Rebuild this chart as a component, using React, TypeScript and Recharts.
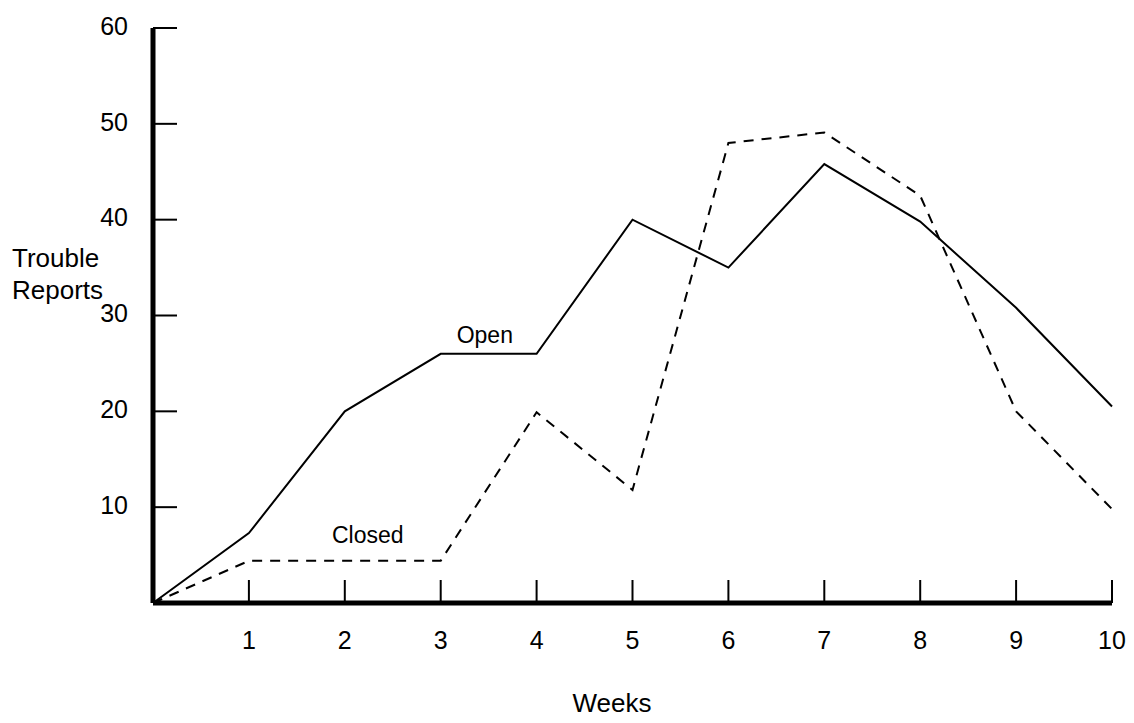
import { Label, Line, LineChart, ReferenceDot, XAxis, YAxis } from "recharts";

const weeks = [0, 1, 2, 3, 4, 5, 6, 7, 8, 9, 10];
const openReports = [0, 7.3, 20, 26, 26, 40, 35, 45.8, 39.8, 30.8, 20.5];
const closedReports = [0, 4.4, 4.4, 4.4, 19.9, 11.8, 48, 49.1, 42.5, 20, 9.8];
const xTicks = [1, 2, 3, 4, 5, 6, 7, 8, 9, 10];
const yTicks = [10, 20, 30, 40, 50, 60];

const data = weeks.map((w, i) => ({ week: w, open: openReports[i], closed: closedReports[i] }));

const FONT = "'Liberation Sans', Arial, sans-serif";
const AXIS_X = 145;
const AXIS_Y = 595;

function YTick(props: any) {
  const { y, payload } = props;
  return (
    <g>
      <line x1={AXIS_X} x2={AXIS_X + 24} y1={y} y2={y} stroke="#000" strokeWidth={2} />
      <text x={120} y={y - 2} dy="0.35em" textAnchor="end" fontSize={25} fontFamily={FONT} fill="#000">
        {payload.value}
      </text>
    </g>
  );
}

function XTick(props: any) {
  const { x, payload } = props;
  return (
    <g>
      <line x1={x} x2={x} y1={AXIS_Y} y2={AXIS_Y - 23} stroke="#000" strokeWidth={2} />
      <text x={x} y={632} dy="0.35em" textAnchor="middle" fontSize={25} fontFamily={FONT} fill="#000">
        {payload.value}
      </text>
    </g>
  );
}

function YTitle() {
  return (
    <text x={4} y={250} fontSize={26} fontFamily={FONT} fill="#000">
      <tspan x={4} dy="0.35em">Trouble</tspan>
      <tspan x={4} y={282} dy="0.35em">Reports</tspan>
    </text>
  );
}

function XTitle() {
  return (
    <text x={604} y={704} textAnchor="middle" fontSize={26} fontFamily={FONT} fill="#000">
      Weeks
    </text>
  );
}

export default function App() {
  return (
    <div style={{ width: 1126, height: 715, background: "#fff" }}>
      <LineChart width={1126} height={715} data={data} margin={{ top: 20, right: 22, bottom: 10, left: 0 }}>
        <XAxis
          dataKey="week"
          type="number"
          domain={[0, 10]}
          ticks={xTicks}
          height={110}
          axisLine={{ stroke: "#000", strokeWidth: 5 }}
          tickLine={false}
          tick={<XTick />}
        >
          <Label content={<XTitle />} />
        </XAxis>
        <YAxis
          type="number"
          domain={[0, 60]}
          ticks={yTicks}
          width={145}
          axisLine={{ stroke: "#000", strokeWidth: 5 }}
          tickLine={false}
          tick={<YTick />}
        >
          <Label content={<YTitle />} />
        </YAxis>
        <Line type="linear" dataKey="open" stroke="#000" strokeWidth={2} dot={false} isAnimationActive={false} />
        <Line
          type="linear"
          dataKey="closed"
          stroke="#000"
          strokeWidth={2}
          strokeDasharray="10 8"
          dot={false}
          isAnimationActive={false}
        />
        <ReferenceDot x={3.46} y={28} r={0} fill="none" stroke="none">
          <Label value="Open" position="center" fontSize={23} fontFamily={FONT} fill="#000" />
        </ReferenceDot>
        <ReferenceDot x={2.24} y={7.1} r={0} fill="none" stroke="none">
          <Label value="Closed" position="center" fontSize={23} fontFamily={FONT} fill="#000" />
        </ReferenceDot>
      </LineChart>
    </div>
  );
}
